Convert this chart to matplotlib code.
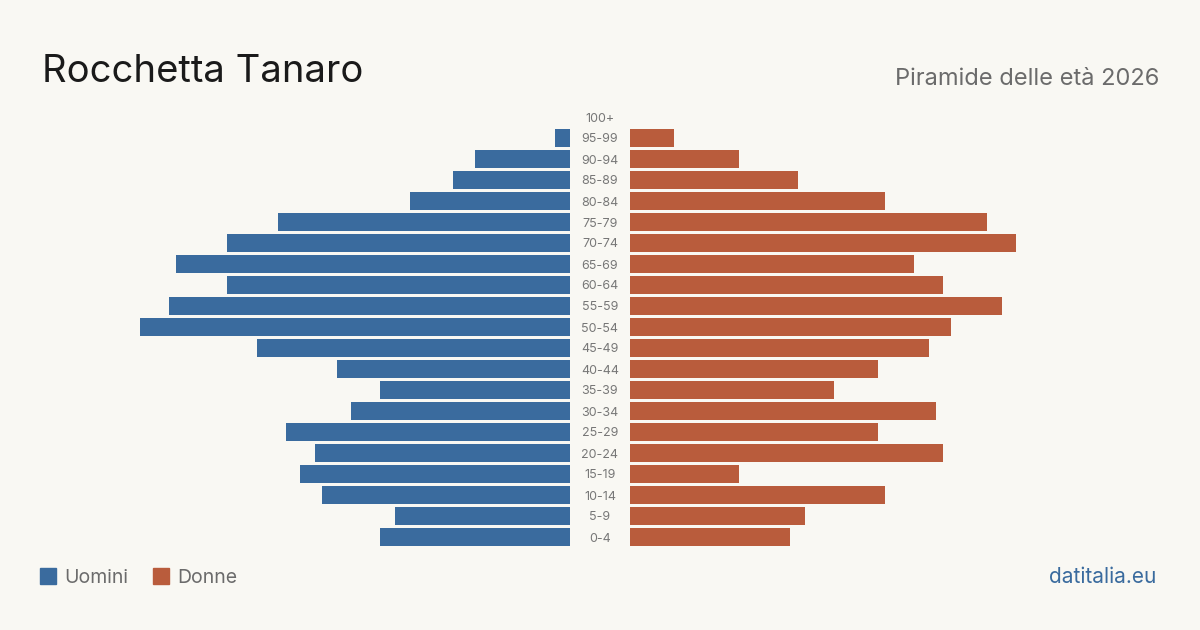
import matplotlib.pyplot as plt

plt.rcParams['font.family'] = ['Inter', 'DejaVu Sans']

age_groups = ['0-4', '5-9', '10-14', '15-19', '20-24', '25-29', '30-34', '35-39',
              '40-44', '45-49', '50-54', '55-59', '60-64', '65-69', '70-74',
              '75-79', '80-84', '85-89', '90-94', '95-99', '100+']
men = [26, 24, 34, 37, 35, 39, 30, 26, 32, 43, 59, 55, 47, 54, 47, 40, 22, 16, 13, 2, 0]
women = [22, 24, 35, 15, 43, 34, 42, 28, 34, 41, 44, 51, 43, 39, 53, 49, 35, 23, 15, 6, 0]

BG = '#f9f8f3'
BLUE = '#3a6b9e'
RED = '#b95c3c'

W, H = 1200, 630
fig = plt.figure(figsize=(12, 6.3), dpi=100, facecolor=BG)

px_per_unit = 7.29
top, bottom = 106.5, 547.5
ax_h = (bottom - top) / H
ax_y = 1 - bottom / H

# left (men) axis: from x=40 to x=570
axl = fig.add_axes([40 / W, ax_y, 530 / W, ax_h])
# right (women) axis: from x=630 to x=1160
axr = fig.add_axes([630 / W, ax_y, 530 / W, ax_h])

pos = list(range(len(age_groups)))
axl.barh(pos, men, height=0.81, color=BLUE)
axr.barh(pos, women, height=0.81, color=RED)

axl.set_xlim(530 / px_per_unit, 0)
axr.set_xlim(0, 530 / px_per_unit)
for ax in (axl, axr):
    ax.set_ylim(-0.5, len(age_groups) - 0.5)
    ax.axis('off')

for i, lab in enumerate(age_groups):
    y = 1 - (top + 1.5 + (len(age_groups) - 0.5 - i) * 21) / H
    fig.text(600 / W, y, lab, ha='center', va='center', fontsize=9, color='#777777')

fig.text(42 / W, 1 - 82 / H, 'Rocchetta Tanaro', fontsize=27.5, color='#1a1a1a',
         ha='left', va='baseline')
fig.text(1159 / W, 1 - 85 / H, 'Piramide delle età 2026', fontsize=17, color='#6b6b6b',
         ha='right', va='baseline')

# legend
fig.patches.append(plt.Rectangle((40 / W, 1 - 584 / H), 16 / W, 16 / H,
                                 transform=fig.transFigure, color=BLUE))
fig.text(64 / W, 1 - 583 / H, 'Uomini', fontsize=14, color='#6b6b6b', ha='left', va='baseline')
fig.patches.append(plt.Rectangle((153 / W, 1 - 584 / H), 16 / W, 16 / H,
                                 transform=fig.transFigure, color=RED))
fig.text(177 / W, 1 - 583 / H, 'Donne', fontsize=14, color='#6b6b6b', ha='left', va='baseline')

fig.text(1156 / W, 1 - 583 / H, 'datitalia.eu', fontsize=15, color=BLUE, ha='right', va='baseline')

fig.savefig('out.png', dpi=100, facecolor=BG)
